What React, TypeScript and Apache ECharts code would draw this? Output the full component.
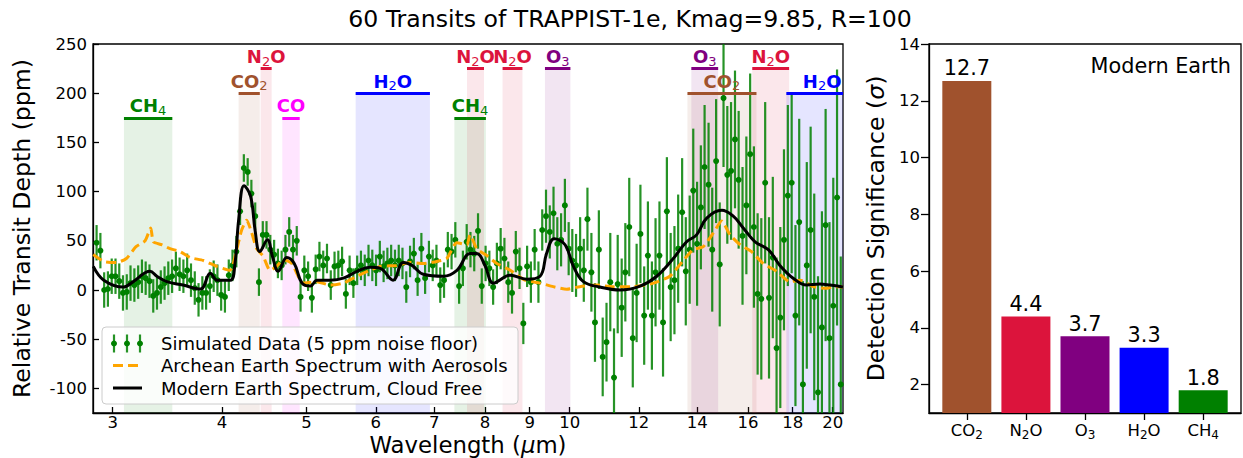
import React, { useEffect, useRef } from 'react';
import * as echarts from 'echarts';

const FONT = 'DejaVu Sans';

// Simulated data (wavelength in micron, depth in ppm, 1-sigma error in ppm)
const wavelengths = [
  2.875, 2.904, 2.933, 2.962, 2.992, 3.022, 3.052, 3.082, 3.113, 3.144,
  3.176, 3.208, 3.240, 3.272, 3.305, 3.338, 3.371, 3.405, 3.439, 3.473,
  3.508, 3.543, 3.578, 3.614, 3.650, 3.687, 3.724, 3.761, 3.799, 3.837,
  3.875, 3.914, 3.953, 3.992, 4.032, 4.073, 4.113, 4.155, 4.196, 4.238,
  4.281, 4.323, 4.367, 4.410, 4.455, 4.499, 4.544, 4.590, 4.636, 4.682,
  4.729, 4.776, 4.824, 4.872, 4.921, 4.970, 5.020, 5.070, 5.121, 5.172,
  5.224, 5.276, 5.329, 5.382, 5.436, 5.490, 5.545, 5.600, 5.656, 5.713,
  5.770, 5.828, 5.886, 5.945, 6.004, 6.064, 6.125, 6.186, 6.248, 6.311,
  6.374, 6.437, 6.502, 6.567, 6.633, 6.699, 6.766, 6.833, 6.902, 6.971,
  7.040, 7.111, 7.182, 7.254, 7.326, 7.399, 7.473, 7.548, 7.624, 7.700,
  7.777, 7.855, 7.933, 8.013, 8.093, 8.174, 8.255, 8.338, 8.421, 8.506,
  8.591, 8.677, 8.763, 8.851, 8.940, 9.029, 9.119, 9.210, 9.303, 9.396,
  9.490, 9.584, 9.680, 9.777, 9.875, 9.974, 10.07, 10.17, 10.28, 10.38,
  10.48, 10.59, 10.69, 10.80, 10.91, 11.02, 11.13, 11.24, 11.35, 11.47,
  11.58, 11.70, 11.81, 11.93, 12.05, 12.17, 12.29, 12.42, 12.54, 12.67,
  12.79, 12.92, 13.05, 13.18, 13.31, 13.45, 13.58, 13.72, 13.85, 13.99,
  14.13, 14.27, 14.42, 14.56, 14.71, 14.85, 15.00, 15.15, 15.30, 15.46,
  15.61, 15.77, 15.93, 16.09, 16.25, 16.41, 16.57, 16.74, 16.91, 17.08,
  17.25, 17.42, 17.59, 17.77, 17.95, 18.13, 18.31, 18.49, 18.68, 18.87,
  19.05, 19.24, 19.44, 19.63, 19.83, 20.03, 20.23, 20.43,
];
const depths = [
  48, 40, 0, 1, 14, 14, 9, -3, -2, 7,
  5, 8, 14, 12, 9, -6, -3, 3, 7, 12,
  14, 22, 16, 14, 20, 10, 2, -10, -3, -3,
  4, 14, 10, -5, -7, 15, 25, 39, 80, 124,
  120, 98, 75, 8, 56, 56, 41, 36, 27, 25,
  41, 59, 41, 50, -7, 20, 14, -8, 21, 34,
  25, 32, 5, 24, 25, 29, -4, 20, 7, 20,
  25, 20, 30, 25, 20, 34, 24, 27, 30, 25,
  30, 27, 3, 29, 37, 10, 42, 12, 34, 25,
  30, 5, 10, 41, 39, 51, 4, 22, 49, 41,
  37, 60, 4, 27, 22, 3, 27, 42, 32, 8,
  -3, 39, 22, -34, 24, 8, 41, 8, 61, 75,
  59, 78, 47, 51, 86, 42, 30, 25, 42, 20,
  72, 18, -33, 41, -68, -53, 8, -89, 6, -18,
  18, 64, -49, -3, 57, -26, 35, -26, 18, 35,
  -33, 80, 3, 10, 42, 79, 19, 41, 101, 47,
  84, 125, 107, 41, 131, 26, 195, 117, 121, 153,
  112, 55, 86, 138, 64, -4, -9, 109, -8, 33,
  -59, -28, 51, 96, 109, -26, 69, -96, 25, 61,
  -7, -104, -38, 66, -49, -16, 94, -96,
];
const errors = [
  18, 18, 18, 18, 18, 18, 18, 18, 18, 18,
  17, 17, 17, 17, 17, 17, 17, 17, 17, 17,
  17, 17, 17, 17, 17, 17, 17, 17, 17, 17,
  17, 16, 16, 16, 16, 16, 16, 16, 14, 14,
  14, 14, 14, 14, 14, 14, 15, 15, 15, 15,
  15, 15, 15, 15, 15, 15, 15, 15, 15, 15,
  15, 15, 15, 15, 15, 15, 15, 15, 15, 15,
  15, 16, 16, 16, 16, 16, 16, 16, 16, 16,
  16, 16, 16, 16, 16, 16, 16, 16, 16, 16,
  16, 18, 18, 18, 18, 18, 18, 18, 18, 18,
  18, 18, 18, 18, 18, 18, 21, 21, 21, 21,
  21, 21, 21, 21, 21, 21, 21, 21, 21, 27,
  27, 27, 27, 27, 27, 27, 32, 32, 32, 32,
  32, 40, 40, 40, 40, 40, 50, 50, 50, 50,
  50, 50, 50, 50, 50, 50, 55, 55, 55, 55,
  55, 55, 55, 55, 55, 55, 55, 55, 63, 63,
  63, 63, 63, 63, 63, 63, 70, 70, 70, 70,
  70, 70, 70, 82, 82, 82, 82, 82, 82, 82,
  92, 92, 92, 92, 92, 92, 105, 105, 105, 105,
  105, 118, 118, 118, 118, 130, 130, 130,
];

// Modern Earth, cloud free (black)
const modernWl = [
  2.85, 2.93, 3.085, 3.167, 3.31, 3.37, 3.46, 3.61, 3.78, 3.88,
  3.95, 4.09, 4.14, 4.18, 4.24, 4.315, 4.365, 4.42, 4.51, 4.57,
  4.64, 4.745, 4.84, 4.94, 5.05, 5.14, 5.32, 5.51, 5.71, 5.91,
  6.07, 6.28, 6.45, 6.60, 6.80, 7.17, 7.43, 7.69, 7.83, 8.0,
  8.18, 8.55, 8.93, 9.25, 9.41, 9.60, 9.88, 10.1, 10.37, 10.83,
  11.42, 12.04, 12.58, 13.14, 13.61, 13.97, 14.35, 14.93, 15.39, 15.80,
  16.30, 16.88, 17.40, 18.02, 18.67, 19.33, 19.85, 20.55,
];
const modernDepth = [
  24, 10, 3, 8.5, 19, 14, 8.5, 5, 1, 17,
  10, 10, 27, 71, 106, 95, 61, 39, 51, 34,
  19, 33, 27, 7, 4, 10, 10, 12, 19, 23,
  22, 10, 28, 25, 16, 14, 20, 37, 37, 25,
  7, 15, 11, 14, 37, 52, 46, 24, 8.5, 3,
  0, 4, 14, 32, 49, 56, 73, 81, 75, 63,
  49, 41, 25, 12, 5, 6, 5, 3,
];

// Archean Earth with aerosols (orange dashed)
const archeanWl = [
  2.85, 2.93, 3.03, 3.11, 3.19, 3.267, 3.316, 3.339, 3.413, 3.489,
  3.582, 3.678, 3.809, 3.946, 4.087, 4.159, 4.214, 4.27, 4.327, 4.384,
  4.461, 4.541, 4.621, 4.703, 4.808, 4.957, 5.136, 5.319, 5.509, 5.707,
  5.91, 6.068, 6.34, 6.565, 6.801, 7.046, 7.234, 7.427, 7.625, 7.692,
  7.829, 8.037, 8.253, 8.472, 8.585, 8.889, 9.248, 9.577, 9.923, 10.27,
  10.74, 11.22, 11.82, 12.47, 13.02, 13.49, 13.85, 14.22, 14.6, 14.93,
  15.26, 15.67, 16.15, 16.65, 17.25, 17.87, 18.35, 19.0, 19.68, 20.02,
  20.55,
];
const archeanDepth = [
  36, 29, 28, 32, 44, 50, 63, 49, 46, 42,
  39, 33, 30, 24, 20, 41, 61, 71, 58, 42,
  34, 20, 24, 31, 27, 7, 8.5, 5, 7, 14,
  20, 24, 25, 28, 27, 29, 32, 48, 46, 56,
  42, 35, 27, 22, 19, 10, 7, 3.4, 0.7, 3.4,
  5, 3.4, 3.4, 7, 14, 30, 41, 44, 58, 70,
  56, 46, 39, 27, 19, 8.5, 10, 3.4, 1.7, 3.4,
  3,
];

// Absorption bands: molecule, start/end wavelength, label level (ppm)
const bandMolecules = ['CH4', 'CO2', 'N2O', 'CO', 'H2O', 'CH4', 'N2O', 'N2O', 'O3', 'O3', 'CO2', 'N2O', 'H2O'];
const bandStart = [3.09, 4.18, 4.43, 4.69, 5.69, 7.38, 7.63, 8.38, 9.37, 13.78, 13.64, 16.18, 17.7];
const bandEnd = [3.51, 4.42, 4.56, 4.91, 6.92, 8.02, 7.98, 8.83, 10.02, 14.79, 16.36, 17.83, 20.55];
const bandLevel = [175, 200, 225, 175, 200, 175, 225, 225, 225, 225, 200, 225, 200];

const xTicks = [3, 4, 5, 6, 7, 8, 9, 10, 12, 14, 16, 18, 20];
const yTicks = [-100, -50, 0, 50, 100, 150, 200, 250];

// Detection significance (right panel)
const sigMolecules = ['CO2', 'N2O', 'O3', 'H2O', 'CH4'];
const sigValues = [12.7, 4.4, 3.7, 3.3, 1.8];
const sigTicks = [2, 4, 6, 8, 10, 12, 14];

const molColor: Record<string, string> = {
  CH4: '#008000',
  CO2: '#a0522d',
  N2O: '#dc143c',
  CO: '#ff00ff',
  H2O: '#0000ff',
  O3: '#800080',
};

function richName(name: string, b: string, s: string) {
  return name.replace(/(\D+)|(\d+)/g, (m: string, a: string) => (a ? `{${b}|${m}}` : `{${s}|${m}}`));
}

export default function App() {
  const ref = useRef<HTMLDivElement>(null);
  useEffect(() => {
    if (!ref.current) return;
    const chart = echarts.init(ref.current, undefined, { renderer: 'svg' });

    const areaData = bandMolecules.map((m, i) => [
      { xAxis: bandStart[i], yAxis: -125, itemStyle: { color: echarts.color.modifyAlpha(molColor[m], 0.1) } },
      { xAxis: bandEnd[i], yAxis: bandLevel[i] },
    ]);
    const lineData = bandMolecules.map((m, i) => [
      {
        coord: [bandStart[i], bandLevel[i]],
        lineStyle: { color: molColor[m], width: 3, type: 'solid' },
        label: {
          show: true,
          position: 'insideMiddleTop',
          distance: 1,
          formatter: richName(m, 'b', 's'),
          padding: i === bandMolecules.length - 1 ? [0, 0, 0, 15] : 0,
          rich: {
            b: { fontFamily: FONT, fontWeight: 'bold', fontSize: 18, color: molColor[m], lineHeight: 22 },
            s: { fontFamily: FONT, fontWeight: 'normal', fontSize: 13, color: molColor[m], lineHeight: 13, verticalAlign: 'bottom' },
          },
        },
      },
      { coord: [bandEnd[i], bandLevel[i]] },
    ]);

    const tickLabelStyle = { fontFamily: FONT, fontSize: 16.5, color: '#000' };
    const axisLineStyle = { color: '#000', width: 1.3 };

    const legendRows = [343.5, 365.5, 388];
    const legendTexts = [
      'Simulated Data (5 ppm noise floor)',
      'Archean Earth Spectrum with Aerosols',
      'Modern Earth Spectrum, Cloud Free',
    ];

    const graphics: any[] = [
      {
        type: 'text', z: 100, x: 630, y: 19,
        style: { text: '60 Transits of TRAPPIST-1e, Kmag=9.85, R=100', fontFamily: FONT, fontSize: 23.6, fill: '#000', align: 'center', verticalAlign: 'middle', textAlign: 'center', textVerticalAlign: 'middle' },
      },
      {
        type: 'text', z: 100, x: 1231, y: 66,
        style: { text: 'Modern Earth', fontFamily: FONT, fontSize: 20.8, fill: '#000', align: 'right', verticalAlign: 'middle', textAlign: 'right', textVerticalAlign: 'middle' },
      },
      {
        type: 'rect', z: 100, shape: { x: 102, y: 327, width: 416, height: 77, r: 4 },
        style: { fill: 'rgba(255,255,255,0.8)', stroke: '#cccccc', lineWidth: 1 },
      },
    ];
    [114, 127, 140].forEach((cx) => {
      graphics.push({ type: 'line', z: 101, shape: { x1: cx, y1: legendRows[0] - 9, x2: cx, y2: legendRows[0] + 9 }, style: { stroke: 'rgba(0,128,0,0.85)', lineWidth: 2.2 } });
      graphics.push({ type: 'circle', z: 102, shape: { cx, cy: legendRows[0], r: 3 }, style: { fill: '#008000' } });
    });
    graphics.push({ type: 'line', z: 101, shape: { x1: 113, y1: legendRows[1], x2: 142, y2: legendRows[1] }, style: { stroke: '#ffa500', lineWidth: 3, lineDash: [10, 5] } });
    graphics.push({ type: 'line', z: 101, shape: { x1: 113, y1: legendRows[2], x2: 142, y2: legendRows[2] }, style: { stroke: '#000', lineWidth: 3 } });
    legendTexts.forEach((t, i) => {
      graphics.push({
        type: 'text', z: 101, x: 161, y: legendRows[i],
        style: { text: t, fontFamily: FONT, fontSize: 18, fill: '#000', align: 'left', verticalAlign: 'middle', textAlign: 'left', textVerticalAlign: 'middle' },
      });
    });

    const option: any = {
      animation: false,
      textStyle: { fontFamily: FONT },
      grid: [
        { left: 93, top: 44, width: 750, height: 369, show: true, borderColor: '#000', borderWidth: 1.3, backgroundColor: 'transparent', containLabel: false, outerBoundsMode: 'none' },
        { left: 929, top: 44, width: 312, height: 369, show: true, borderColor: '#000', borderWidth: 1.3, backgroundColor: 'transparent', containLabel: false, outerBoundsMode: 'none' },
      ],
      xAxis: [
        {
          gridIndex: 0, type: 'log', logBase: 10, min: 2.848, max: 20.55,
          axisLine: { show: true, onZero: false, lineStyle: axisLineStyle },
          axisTick: { show: true, inside: true, length: 6, customValues: xTicks, lineStyle: axisLineStyle },
          axisLabel: { ...tickLabelStyle, lineHeight: 15, customValues: xTicks, margin: 2, formatter: (v: number) => String(Math.round(v)) },
          minorTick: { show: false },
          splitLine: { show: false },
          name: 'Wavelength ({i|μ}m)', nameLocation: 'middle', nameGap: 21, nameMoveOverlap: false,
          nameTextStyle: { fontFamily: FONT, fontSize: 22.8, lineHeight: 22, color: '#000', rich: { i: { fontFamily: FONT, fontSize: 22.8, lineHeight: 22, fontStyle: 'italic', color: '#000' } } },
        },
        {
          gridIndex: 1, type: 'value', min: -0.64, max: 4.64,
          axisLine: { show: true, onZero: false, lineStyle: axisLineStyle },
          axisTick: { show: true, inside: false, length: 7, customValues: [0, 1, 2, 3, 4], lineStyle: axisLineStyle },
          axisLabel: {
            ...tickLabelStyle, customValues: [0, 1, 2, 3, 4], margin: 7,
            formatter: (v: number) => richName(sigMolecules[Math.round(v)] || '', 'n', 's'),
            rich: {
              n: { fontFamily: FONT, fontSize: 16.5, color: '#000', lineHeight: 21 },
              s: { fontFamily: FONT, fontSize: 12, color: '#000', lineHeight: 12, verticalAlign: 'bottom' },
            },
          },
          splitLine: { show: false },
        },
      ],
      yAxis: [
        {
          gridIndex: 0, type: 'value', min: -125, max: 250,
          axisLine: { show: true, onZero: false, lineStyle: axisLineStyle },
          axisTick: { show: true, inside: true, length: 6, customValues: yTicks, lineStyle: axisLineStyle },
          axisLabel: { ...tickLabelStyle, customValues: yTicks, margin: 6 },
          splitLine: { show: false },
          name: 'Relative Transit Depth (ppm)', nameLocation: 'middle', nameGap: 59, nameMoveOverlap: false,
          nameTextStyle: { fontFamily: FONT, fontSize: 23.6, color: '#000' },
        },
        {
          gridIndex: 1, type: 'value', min: 1, max: 14,
          axisLine: { show: true, onZero: false, lineStyle: axisLineStyle },
          axisTick: { show: true, inside: false, length: 8, customValues: sigTicks, lineStyle: axisLineStyle },
          axisLabel: { ...tickLabelStyle, customValues: sigTicks, margin: 9 },
          splitLine: { show: false },
          name: 'Detection Significance ({i|σ})', nameLocation: 'middle', nameGap: 41, nameMoveOverlap: false,
          nameTextStyle: { fontFamily: FONT, fontSize: 23.6, color: '#000', rich: { i: { fontFamily: FONT, fontSize: 23.6, fontStyle: 'italic', color: '#000' } } },
        },
      ],
      series: [
        {
          name: 'bands', type: 'line', xAxisIndex: 0, yAxisIndex: 0, data: [], z: 1, silent: true,
          markArea: { silent: true, data: areaData },
          markLine: { silent: true, symbol: ['none', 'none'], data: lineData },
        },
        {
          name: 'errors', type: 'custom', xAxisIndex: 0, yAxisIndex: 0, z: 2, clip: true, silent: true,
          data: wavelengths.map((w, i) => [w, depths[i], errors[i]]),
          encode: { x: 0, y: 1 },
          renderItem: (params: any, api: any) => {
            const x = api.value(0);
            const y = api.value(1);
            const e = api.value(2);
            const p1 = api.coord([x, y + e]);
            const p2 = api.coord([x, y - e]);
            return {
              type: 'line',
              shape: { x1: p1[0], y1: p1[1], x2: p2[0], y2: p2[1] },
              style: { stroke: 'rgba(0,128,0,0.85)', lineWidth: 2.2 },
            };
          },
        },
        {
          name: 'Simulated Data', type: 'scatter', xAxisIndex: 0, yAxisIndex: 0, z: 3, clip: true, silent: true,
          data: wavelengths.map((w, i) => [w, depths[i]]),
          symbolSize: 6, itemStyle: { color: '#008000', opacity: 1 },
        },
        {
          name: 'Archean', type: 'line', xAxisIndex: 0, yAxisIndex: 0, z: 4, silent: true,
          data: archeanWl.map((w, i) => [w, archeanDepth[i]]),
          symbol: 'none', smooth: 0.2,
          lineStyle: { color: '#ffa500', width: 3, type: [10, 5] },
        },
        {
          name: 'Modern', type: 'line', xAxisIndex: 0, yAxisIndex: 0, z: 5, silent: true,
          data: modernWl.map((w, i) => [w, modernDepth[i]]),
          symbol: 'none', smooth: 0.4,
          lineStyle: { color: '#000', width: 3 },
        },
        {
          name: 'Significance', type: 'bar', xAxisIndex: 1, yAxisIndex: 1, z: 2, silent: true,
          barWidth: 49,
          data: sigValues.map((v, i) => ({ value: [i, v], itemStyle: { color: molColor[sigMolecules[i]] } })),
          label: {
            show: true, position: 'top', distance: 2, fontFamily: FONT, fontSize: 20.8, color: '#000',
            formatter: (p: any) => p.value[1].toFixed(1),
          },
        },
      ],
      graphic: graphics,
    };
    chart.setOption(option);
    return () => chart.dispose();
  }, []);
  return <div ref={ref} style={{ position: 'absolute', left: 0, top: 0, width: 1243, height: 458 }} />;
}
